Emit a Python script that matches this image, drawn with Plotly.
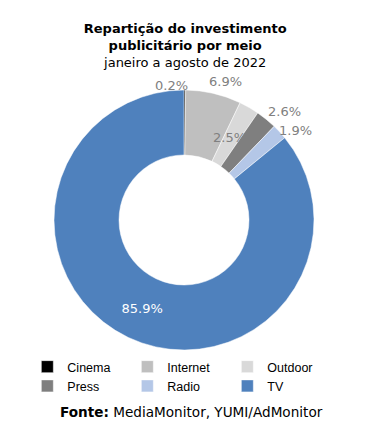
import math
import plotly.graph_objects as go

categories = ["Cinema", "Internet", "Outdoor", "Press", "Radio", "TV"]
shares = [0.2, 6.9, 2.5, 2.6, 1.9, 85.9]
colors = ["#000000", "#BFBFBF", "#D9D9D9", "#7F7F7F", "#B4C7E7", "#4F81BD"]

W, H = 379, 443
CX, CY, R = 176, 212, 130  # pie centre / radius in figure pixels (top-left origin)
HOLE = 0.5

# label placement: (radius factor, x shift px, y shift px); None = drawn by the pie itself
label_place = [(1.1, -13, -8), (1.1, 9, -1), (0.75, -3, -2), (1.1, 10, -2), (1.1, 6, -7), None]

fig = go.Figure(go.Pie(
    labels=categories,
    values=shares,
    sort=False,
    direction="clockwise",
    rotation=0,
    hole=HOLE,
    marker=dict(colors=colors, line=dict(color="#FFFFFF", width=0.5)),
    texttemplate=["" if p else "%{value:.1f}%" for p in label_place],
    textposition=["none" if p else "inside" for p in label_place],
    textfont=dict(family="DejaVu Sans", size=13, color="#FFFFFF"),
    insidetextorientation="horizontal",
    domain=dict(x=[(CX - R) / W, (CX + R) / W], y=[1 - (CY + R) / H, 1 - (CY - R) / H]),
    showlegend=True,
    hoverinfo="label+percent",
))

annotations = []
total = sum(shares)
cum = 0.0
for val, place in zip(shares, label_place):
    mid = (cum + val / 2) / total * 2 * math.pi
    cum += val
    if place is None:
        continue
    k, dx, dy = place
    px = CX + R * k * math.sin(mid)
    py = CY - R * k * math.cos(mid)
    annotations.append(dict(
        text=f"{val:.1f}%", x=px / W, y=1 - py / H, xref="paper", yref="paper",
        xanchor="center", yanchor="middle", xshift=dx, yshift=dy, showarrow=False,
        font=dict(family="DejaVu Sans", size=13, color="#808080"),
    ))

annotations.append(dict(
    text="<b>Fonte:</b> MediaMonitor, YUMI/AdMonitor",
    x=0.484, xanchor="center", y=1 - 404 / H, yanchor="middle",
    xref="paper", yref="paper", showarrow=False,
    font=dict(family="DejaVu Sans", size=13.6, color="#000000"),
))

fig.update_layout(
    width=W, height=H,
    margin=dict(l=0, r=0, t=0, b=0),
    paper_bgcolor="#FFFFFF",
    plot_bgcolor="#FFFFFF",
    title=dict(
        text="<b>Repartição do investimento<br>publicitário por meio</b><br>janeiro a agosto de 2022",
        x=0.4675, xanchor="center", y=0.944, yanchor="top",
        font=dict(family="DejaVu Sans", size=13, color="#000000"),
    ),
    legend=dict(
        orientation="h", x=0.051, xanchor="left", y=1 - 344 / H, yanchor="top",
        entrywidth=55, entrywidthmode="pixels",
        font=dict(family="Liberation Sans", size=12.5, color="#000000"),
        itemwidth=30, tracegroupgap=0,
    ),
    annotations=annotations,
)

fig.write_html("out.html")
